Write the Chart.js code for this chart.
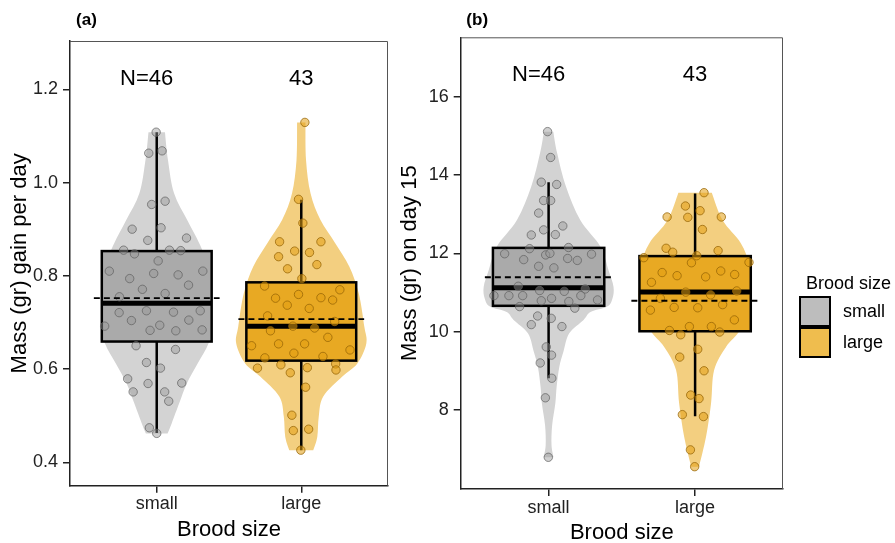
<!DOCTYPE html>
<html>
<head>
<meta charset="utf-8">
<script src="https://cdn.jsdelivr.net/npm/chart.js@4.4.1/dist/chart.umd.min.js"></script>
<style>
  html, body { margin: 0; padding: 0; background: #fff; overflow: hidden; }
  #wrap { position: relative; width: 895px; height: 543px; overflow: hidden; }
  #gainChart { position: absolute; left: 0; top: 0; }
  #day15Chart { position: absolute; left: 395px; top: 0; }
</style>
</head>
<body>
<div id="wrap">
  <canvas id="gainChart" width="395" height="543"></canvas>
  <canvas id="day15Chart" width="500" height="546"></canvas>
</div>
<script>
const categories = ['small', 'large'];
const nLabels = ['N=46', '43'];

// (a) mass gain per day
const gainTicks = [0.4, 0.6, 0.8, 1.0, 1.2];
const gainSmall = [1.108, 1.063, 1.068, 0.953, 0.960, 0.900, 0.903, 0.881, 0.876, 0.855, 0.847, 0.855, 0.854, 0.832, 0.810, 0.794, 0.805, 0.802, 0.810, 0.780, 0.771, 0.762, 0.755, 0.721, 0.725, 0.722, 0.725, 0.704, 0.705, 0.694, 0.692, 0.683, 0.682, 0.684, 0.650, 0.642, 0.614, 0.602, 0.579, 0.569, 0.570, 0.551, 0.551, 0.531, 0.474, 0.462];
const gainSmallJitter = [-0.004, -0.055, 0.037, -0.035, 0.058, -0.170, 0.030, 0.206, -0.062, -0.229, -0.154, 0.088, 0.166, 0.010, -0.328, -0.187, -0.021, 0.148, 0.319, 0.220, -0.099, 0.058, -0.258, -0.260, -0.071, 0.116, 0.301, -0.175, 0.222, 0.021, -0.360, -0.046, 0.132, 0.314, -0.143, 0.130, -0.071, 0.026, -0.201, -0.060, 0.173, -0.163, 0.055, 0.083, -0.051, 0.000];
const gainLarge = [1.129, 0.964, 0.913, 0.873, 0.873, 0.841, 0.853, 0.850, 0.824, 0.815, 0.794, 0.778, 0.770, 0.760, 0.752, 0.753, 0.748, 0.737, 0.730, 0.714, 0.702, 0.692, 0.688, 0.682, 0.668, 0.650, 0.654, 0.654, 0.641, 0.634, 0.624, 0.627, 0.602, 0.609, 0.603, 0.611, 0.592, 0.598, 0.561, 0.501, 0.468, 0.471, 0.426];
const gainLargeJitter = [0.025, -0.019, 0.011, -0.150, 0.136, -0.157, -0.046, 0.057, 0.108, -0.095, 0.004, -0.254, 0.267, -0.019, -0.178, 0.136, 0.217, -0.097, 0.055, -0.233, 0.231, -0.058, 0.092, -0.213, 0.184, -0.344, -0.157, 0.023, 0.337, -0.051, -0.252, 0.150, -0.303, -0.141, 0.042, 0.238, -0.076, 0.240, 0.030, -0.065, -0.055, 0.051, -0.003];
// box: whisker low, Q1, median, Q3, whisker high
const gainBoxSmall = [0.463, 0.659, 0.741, 0.853, 1.108];
const gainBoxLarge = [0.426, 0.618, 0.692, 0.786, 0.963];
const gainMeans = [0.752, 0.707];
// violin outline: levels (top to bottom) and half widths
const gainViolinSmallLevels = [1.108, 1.048, 0.977, 0.920, 0.870, 0.834, 0.780, 0.741, 0.694, 0.655, 0.612, 0.569, 0.527, 0.484, 0.462];
const gainViolinSmallWidths = [0.057, 0.078, 0.120, 0.210, 0.294, 0.339, 0.367, 0.374, 0.384, 0.358, 0.283, 0.208, 0.156, 0.104, 0.075];
const gainViolinLargeLevels = [1.129, 1.048, 0.977, 0.920, 0.870, 0.820, 0.762, 0.691, 0.655, 0.612, 0.584, 0.541, 0.498, 0.455, 0.426];
const gainViolinLargeWidths = [0.029, 0.033, 0.064, 0.132, 0.235, 0.332, 0.398, 0.436, 0.450, 0.388, 0.284, 0.152, 0.121, 0.111, 0.083];

// (b) mass on day 15
const day15Ticks = [8, 10, 12, 14, 16];
const day15Small = [15.11, 14.45, 13.82, 13.76, 13.35, 13.35, 13.03, 12.70, 12.60, 12.48, 12.47, 12.12, 12.15, 11.99, 11.96, 12.00, 11.84, 11.87, 11.82, 11.98, 11.67, 11.63, 11.16, 11.09, 10.92, 10.92, 10.92, 11.05, 11.03, 10.92, 10.79, 10.85, 10.77, 10.81, 10.64, 10.60, 10.40, 10.34, 10.18, 10.13, 9.61, 9.40, 9.20, 8.81, 8.31, 6.79];
const day15SmallJitter = [-0.007, 0.014, -0.050, 0.055, -0.034, 0.014, -0.068, 0.097, -0.034, 0.046, -0.118, -0.130, 0.136, -0.300, -0.020, 0.009, -0.170, 0.130, 0.196, 0.293, -0.068, 0.036, -0.207, 0.250, -0.373, -0.271, -0.177, -0.061, 0.107, 0.220, -0.050, 0.020, 0.138, 0.334, -0.198, 0.179, -0.075, 0.018, -0.118, 0.091, -0.016, 0.020, -0.057, 0.022, -0.022, -0.002];
const day15Large = [13.55, 13.21, 13.09, 12.93, 12.92, 12.93, 12.61, 12.13, 12.03, 12.07, 11.94, 11.89, 11.76, 11.77, 11.51, 11.43, 11.40, 11.55, 11.46, 11.26, 11.01, 10.94, 11.04, 10.85, 10.55, 10.62, 10.61, 10.69, 10.30, 10.03, 9.92, 10.13, 10.13, 9.99, 9.55, 9.35, 9.00, 8.38, 8.29, 7.88, 7.83, 6.98, 6.55];
const day15LargeJitter = [0.061, -0.066, 0.034, -0.191, -0.050, 0.179, 0.050, -0.198, -0.153, 0.157, 0.011, -0.350, -0.025, 0.368, -0.225, -0.123, 0.072, 0.175, 0.270, -0.298, -0.064, 0.106, 0.284, -0.237, -0.305, -0.143, 0.018, 0.188, 0.268, -0.175, -0.098, -0.039, 0.111, 0.168, 0.018, -0.105, 0.061, -0.030, 0.027, -0.087, 0.057, -0.032, -0.003];
const day15BoxSmall = [8.81, 10.66, 11.12, 12.14, 13.82];
const day15BoxLarge = [7.84, 10.01, 11.01, 11.93, 13.53];
const day15Means = [11.39, 10.79];
const day15ViolinSmallLevels = [15.11, 14.55, 13.70, 12.85, 12.17, 11.57, 11.15, 10.85, 10.64, 10.50, 10.30, 9.96, 9.50, 9.10, 8.60, 8.17, 7.60, 7.10, 6.79];
const day15ViolinSmallWidths = [0.032, 0.059, 0.119, 0.216, 0.354, 0.409, 0.443, 0.436, 0.400, 0.286, 0.239, 0.141, 0.102, 0.073, 0.055, 0.046, 0.024, 0.020, 0.034];
const day15ViolinLargeLevels = [13.55, 12.85, 12.26, 11.74, 11.24, 10.72, 10.04, 9.61, 9.02, 8.17, 7.32, 6.55];
const day15ViolinLargeWidths = [0.114, 0.187, 0.312, 0.368, 0.382, 0.382, 0.307, 0.211, 0.130, 0.109, 0.075, 0.027];

const FONT = "'Liberation Sans', Arial, sans-serif";
const colors = {
  small: { violin: '#d3d3d3', box: '#aaaaaa', point: 'rgba(150,150,150,0.45)', pointLine: 'rgba(95,95,95,0.7)', key: '#bdbdbd' },
  large: { violin: '#f3cf80', box: '#e8a923', point: 'rgba(226,158,18,0.55)', pointLine: 'rgba(150,100,5,0.75)', key: '#efbd4e' }
};
const BOX_HALF = 0.38;
const MEAN_HALF = 0.435;

// catmull-rom through the points
function smoothPath(ctx, pts, first) {
  if (first) ctx.moveTo(pts[0][0], pts[0][1]);
  for (let i = 0; i < pts.length - 1; i++) {
    const p0 = pts[i - 1] || pts[i], p1 = pts[i], p2 = pts[i + 1], p3 = pts[i + 2] || p2;
    ctx.bezierCurveTo(
      p1[0] + (p2[0] - p0[0]) / 6, p1[1] + (p2[1] - p0[1]) / 6,
      p2[0] - (p3[0] - p1[0]) / 6, p2[1] - (p3[1] - p1[1]) / 6,
      p2[0], p2[1]);
  }
}

function panelPlugin(p) {
  return {
    id: 'panel_' + p.tag.replace(/\W/g, ''),
    beforeDatasetsDraw(chart) {
      const { ctx, scales: { x, y } } = chart;
      ctx.save();
      p.groups.forEach((g, i) => {
        const c = i + 1;
        const right = g.levels.map((v, k) => [x.getPixelForValue(c + g.widths[k]), y.getPixelForValue(v)]);
        const left = g.levels.map((v, k) => [x.getPixelForValue(c - g.widths[k]), y.getPixelForValue(v)]).reverse();
        ctx.beginPath();
        smoothPath(ctx, right, true);
        ctx.lineTo(left[0][0], left[0][1]);
        smoothPath(ctx, left, false);
        ctx.closePath();
        ctx.fillStyle = g.col.violin;
        ctx.fill();

        const [lo, q1, med, q3, hi] = g.box;
        const cx = x.getPixelForValue(c);
        ctx.strokeStyle = '#000';
        ctx.lineWidth = 2.5;
        ctx.beginPath();
        ctx.moveTo(cx, y.getPixelForValue(hi));
        ctx.lineTo(cx, y.getPixelForValue(q3));
        ctx.moveTo(cx, y.getPixelForValue(q1));
        ctx.lineTo(cx, y.getPixelForValue(lo));
        ctx.stroke();

        const bx0 = x.getPixelForValue(c - BOX_HALF), bx1 = x.getPixelForValue(c + BOX_HALF);
        const by0 = y.getPixelForValue(q3), by1 = y.getPixelForValue(q1);
        ctx.fillStyle = g.col.box;
        ctx.fillRect(bx0, by0, bx1 - bx0, by1 - by0);
        ctx.strokeRect(bx0, by0, bx1 - bx0, by1 - by0);
        ctx.lineWidth = 5;
        ctx.beginPath();
        ctx.moveTo(bx0, y.getPixelForValue(med));
        ctx.lineTo(bx1, y.getPixelForValue(med));
        ctx.stroke();
      });
      ctx.restore();
    },
    afterDatasetsDraw(chart) {
      const { ctx, scales: { x, y } } = chart;
      ctx.save();
      ctx.strokeStyle = '#000';
      ctx.lineWidth = 1.8;
      ctx.setLineDash([6, 4]);
      p.means.forEach((m, i) => {
        const yy = y.getPixelForValue(m);
        ctx.beginPath();
        ctx.moveTo(x.getPixelForValue(i + 1 - MEAN_HALF), yy);
        ctx.lineTo(x.getPixelForValue(i + 1 + MEAN_HALF), yy);
        ctx.stroke();
      });
      ctx.restore();
    },
    afterDraw(chart) {
      const { ctx, chartArea: a, scales: { x } } = chart;
      ctx.save();
      // top and right frame
      ctx.strokeStyle = '#555';
      ctx.lineWidth = 1;
      ctx.beginPath();
      ctx.moveTo(a.left, a.top + 0.5);
      ctx.lineTo(a.right - 0.5, a.top + 0.5);
      ctx.lineTo(a.right - 0.5, a.bottom);
      ctx.stroke();

      ctx.fillStyle = '#000';
      ctx.textBaseline = 'middle';
      ctx.font = '22px ' + FONT;
      ctx.textAlign = 'center';
      nLabels.forEach((t, i) => {
        const nudge = i === 0 ? -10 : 0;
        ctx.fillText(t, x.getPixelForValue(i + 1) + nudge, a.top + 38);
      });

      ctx.font = 'bold 17px ' + FONT;
      ctx.fillText(p.tag, a.left + 16.5, 20);

      if (p.legend) {
        const lx = 405;
        ctx.textAlign = 'left';
        ctx.font = '18px ' + FONT;
        ctx.fillText('Brood size', lx + 6, 284);
        categories.forEach((cat, i) => {
          const top = 297 + i * 31;
          ctx.fillStyle = colors[cat].key;
          ctx.fillRect(lx, top, 30, 29);
          ctx.strokeStyle = '#000';
          ctx.lineWidth = 2;
          ctx.strokeRect(lx, top, 30, 29);
          ctx.fillStyle = '#000';
          ctx.fillText(cat, lx + 43, top + 15);
        });
      }
      ctx.restore();
    }
  };
}

function makePanel(canvasId, cfg) {
  const sets = [
    { vals: cfg.small, jit: cfg.smallJitter, col: colors.small, c: 1 },
    { vals: cfg.large, jit: cfg.largeJitter, col: colors.large, c: 2 }
  ];
  return new Chart(document.getElementById(canvasId), {
    type: 'scatter',
    data: {
      datasets: sets.map((s, i) => ({
        label: categories[i],
        data: s.vals.map((v, k) => ({ x: s.c + s.jit[k], y: v })),
        pointRadius: 4.2,
        pointBorderWidth: 1,
        backgroundColor: s.col.point,
        borderColor: s.col.pointLine
      }))
    },
    options: {
      responsive: false,
      animation: false,
      layout: { padding: { top: cfg.padTop, right: cfg.padRight, bottom: 0, left: 0 } },
      plugins: { legend: { display: false }, tooltip: { enabled: false } },
      scales: {
        x: {
          type: 'linear', min: 0.4, max: 2.6,
          afterBuildTicks: s => { s.ticks = categories.map((c, i) => ({ value: i + 1 })); },
          afterFit: s => { s.height = cfg.xHeight; },
          ticks: {
            callback: v => categories[Math.round(v) - 1],
            font: { family: FONT, size: 18 }, color: '#222', padding: 1, maxRotation: 0
          },
          grid: { drawOnChartArea: false, tickLength: 7, color: '#222', lineWidth: 1.5 },
          border: { color: '#222', width: 1.5 },
          title: { display: true, text: 'Brood size', font: { family: FONT, size: 22 }, color: '#000', padding: { top: 0, bottom: 0 } }
        },
        y: {
          min: cfg.yMin, max: cfg.yMax,
          afterBuildTicks: s => { s.ticks = cfg.ticks.map(v => ({ value: v })); },
          afterFit: s => { s.width = cfg.yWidth; },
          ticks: {
            callback: cfg.tickFmt,
            font: { family: FONT, size: 18 }, color: '#222', padding: 5
          },
          grid: { drawOnChartArea: false, tickLength: 7, color: '#222', lineWidth: 1.5 },
          border: { color: '#222', width: 1.5 },
          title: { display: true, text: cfg.yTitle, font: { family: FONT, size: 22 }, color: '#000', padding: { top: cfg.yTitlePad, bottom: 0 } }
        }
      }
    },
    plugins: [panelPlugin({
      tag: cfg.tag,
      means: cfg.means,
      legend: cfg.legend,
      groups: [
        { levels: cfg.violinSmallLevels, widths: cfg.violinSmallWidths, box: cfg.boxSmall, col: colors.small },
        { levels: cfg.violinLargeLevels, widths: cfg.violinLargeWidths, box: cfg.boxLarge, col: colors.large }
      ]
    })]
  });
}

makePanel('gainChart', {
  tag: '(a)', legend: false,
  small: gainSmall, smallJitter: gainSmallJitter, large: gainLarge, largeJitter: gainLargeJitter,
  boxSmall: gainBoxSmall, boxLarge: gainBoxLarge, means: gainMeans,
  violinSmallLevels: gainViolinSmallLevels, violinSmallWidths: gainViolinSmallWidths,
  violinLargeLevels: gainViolinLargeLevels, violinLargeWidths: gainViolinLargeWidths,
  ticks: gainTicks, tickFmt: v => v.toFixed(1),
  yMin: 0.3498, yMax: 1.3036, yTitle: 'Mass (gr) gain per day', yTitlePad: 7,
  padTop: 41, padRight: 7, xHeight: 57.3, yWidth: 70
});

makePanel('day15Chart', {
  tag: '(b)', legend: true,
  small: day15Small, smallJitter: day15SmallJitter, large: day15Large, largeJitter: day15LargeJitter,
  boxSmall: day15BoxSmall, boxLarge: day15BoxLarge, means: day15Means,
  violinSmallLevels: day15ViolinSmallLevels, violinSmallWidths: day15ViolinSmallWidths,
  violinLargeLevels: day15ViolinLargeLevels, violinLargeWidths: day15ViolinLargeWidths,
  ticks: day15Ticks, tickFmt: v => String(v),
  yMin: 5.98, yMax: 17.52, yTitle: 'Mass (gr) on day 15', yTitlePad: 2,
  padTop: 37.3, padRight: 112, xHeight: 57, yWidth: 65.7
});
</script>
</body>
</html>
